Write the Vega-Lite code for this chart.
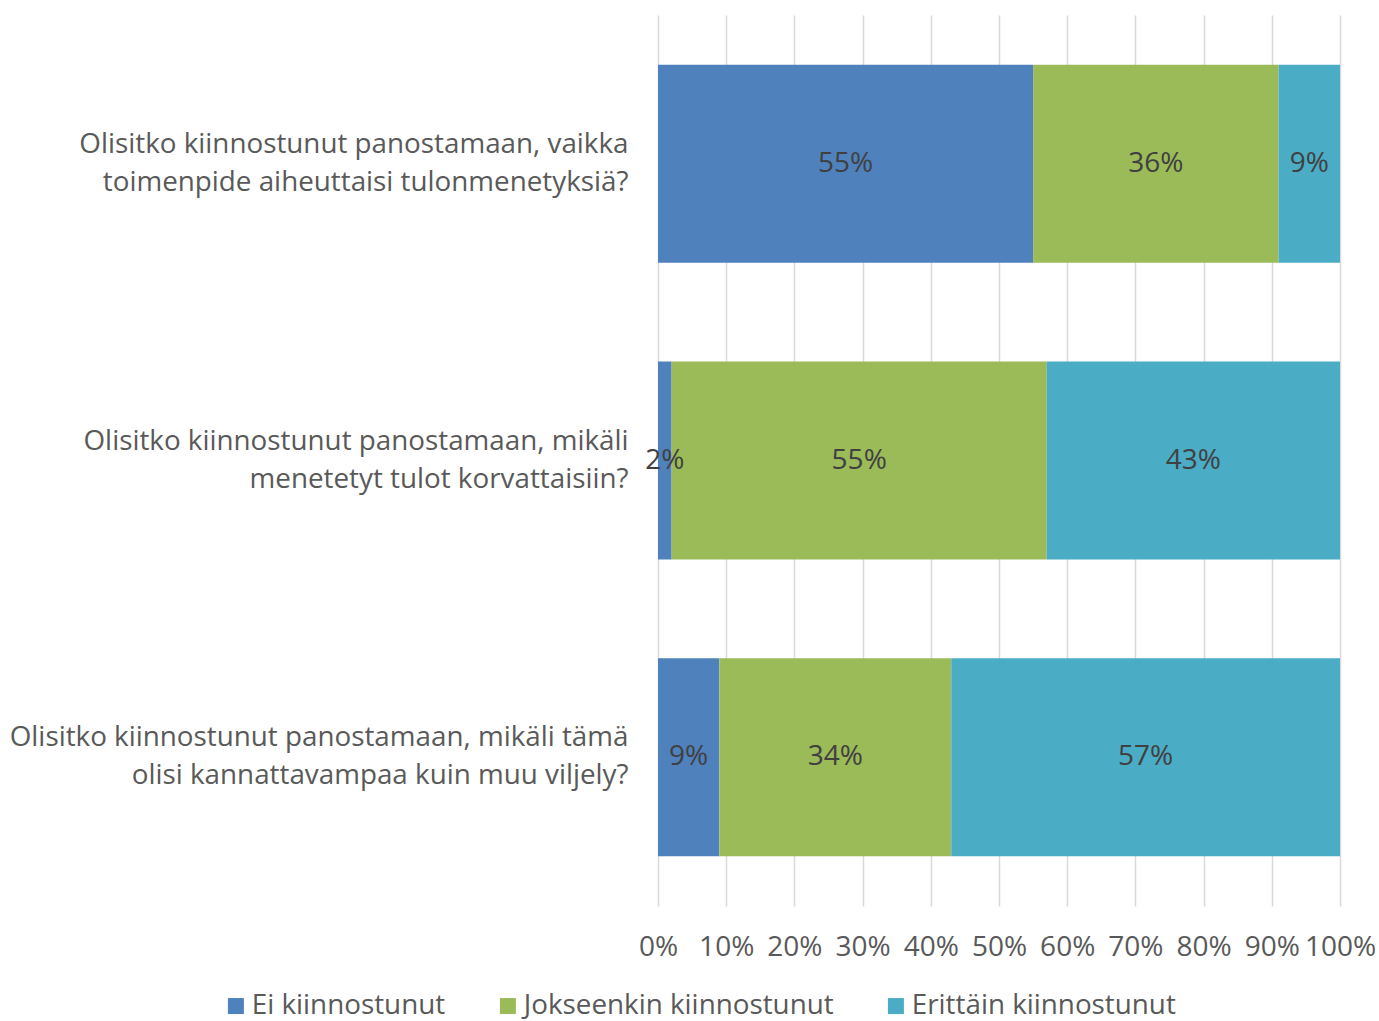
{
  "$schema": "https://vega.github.io/schema/vega-lite/v6.json",
  "autosize": "none",
  "width": 682,
  "height": 891,
  "padding": {"left": 658, "top": 15, "right": 39, "bottom": 115},
  "background": "white",
  "config": {
    "view": {"stroke": null},
    "font": "Open Sans"
  },
  "data": {
    "values": [
      {"q": "Olisitko kiinnostunut panostamaan, vaikka|toimenpide aiheuttaisi tulonmenetyksiä?", "qo": 1, "cat": "Ei kiinnostunut", "co": 1, "v": 0.55},
      {"q": "Olisitko kiinnostunut panostamaan, vaikka|toimenpide aiheuttaisi tulonmenetyksiä?", "qo": 1, "cat": "Jokseenkin kiinnostunut", "co": 2, "v": 0.36},
      {"q": "Olisitko kiinnostunut panostamaan, vaikka|toimenpide aiheuttaisi tulonmenetyksiä?", "qo": 1, "cat": "Erittäin kiinnostunut", "co": 3, "v": 0.09},
      {"q": "Olisitko kiinnostunut panostamaan, mikäli|menetetyt tulot korvattaisiin?", "qo": 2, "cat": "Ei kiinnostunut", "co": 1, "v": 0.02},
      {"q": "Olisitko kiinnostunut panostamaan, mikäli|menetetyt tulot korvattaisiin?", "qo": 2, "cat": "Jokseenkin kiinnostunut", "co": 2, "v": 0.55},
      {"q": "Olisitko kiinnostunut panostamaan, mikäli|menetetyt tulot korvattaisiin?", "qo": 2, "cat": "Erittäin kiinnostunut", "co": 3, "v": 0.43},
      {"q": "Olisitko kiinnostunut panostamaan, mikäli tämä|olisi kannattavampaa kuin muu viljely?", "qo": 3, "cat": "Ei kiinnostunut", "co": 1, "v": 0.09},
      {"q": "Olisitko kiinnostunut panostamaan, mikäli tämä|olisi kannattavampaa kuin muu viljely?", "qo": 3, "cat": "Jokseenkin kiinnostunut", "co": 2, "v": 0.34},
      {"q": "Olisitko kiinnostunut panostamaan, mikäli tämä|olisi kannattavampaa kuin muu viljely?", "qo": 3, "cat": "Erittäin kiinnostunut", "co": 3, "v": 0.57}
    ]
  },
  "transform": [
    {"stack": "v", "groupby": ["q"], "sort": [{"field": "co", "order": "ascending"}], "as": ["x0", "x1"]},
    {"calculate": "(datum.x0 + datum.x1) / 2", "as": "xm"}
  ],
  "encoding": {
    "y": {
      "field": "q",
      "type": "nominal",
      "sort": {"field": "qo", "order": "ascending"},
      "title": null,
      "scale": {"paddingInner": 0.333, "paddingOuter": 0.168},
      "axis": {
        "labelExpr": "split(datum.label, '|')",
        "labelFontSize": 27.8,
        "labelColor": "#595959",
        "labelLineHeight": 38,
        "labelPadding": 30,
        "labelOffset": -19,
        "labelLimit": 700,
        "ticks": false,
        "domain": false,
        "labelAlign": "right"
      }
    }
  },
  "layer": [
    {
      "mark": {"type": "bar"},
      "encoding": {
        "x": {
          "field": "x0",
          "type": "quantitative",
          "scale": {"domain": [0, 1], "nice": false},
          "title": null,
          "axis": {
            "format": ".0%",
            "values": [0, 0.1, 0.2, 0.3, 0.4, 0.5, 0.6, 0.7, 0.8, 0.9, 1],
            "labelFontSize": 28,
            "labelColor": "#595959",
            "labelPadding": 27,
            "ticks": false,
            "domain": false,
            "grid": true,
            "gridColor": "#d9d9d9",
            "gridWidth": 1.5,
            "labelFlush": false,
            "labelOverlap": false
          }
        },
        "x2": {"field": "x1"},
        "color": {
          "field": "cat",
          "type": "nominal",
          "sort": ["Ei kiinnostunut", "Jokseenkin kiinnostunut", "Erittäin kiinnostunut"],
          "scale": {
            "domain": ["Ei kiinnostunut", "Jokseenkin kiinnostunut", "Erittäin kiinnostunut"],
            "range": ["#4F81BD", "#9BBB59", "#4BACC6"]
          },
          "legend": {
            "title": null,
            "orient": "none",
            "direction": "horizontal",
            "legendX": -436,
            "legendY": 977,
            "symbolType": "square",
            "symbolSize": 256,
            "symbolStrokeWidth": 0,
            "symbolOpacity": 1,
            "labelFontSize": 27.8,
            "labelColor": "#595959",
            "labelOffset": 2,
            "columnPadding": 48,
            "labelLimit": 500
          }
        }
      }
    },
    {
      "mark": {"type": "text", "fontSize": 28, "color": "#404040", "baseline": "middle", "align": "center"},
      "encoding": {
        "x": {"field": "xm", "type": "quantitative"},
        "text": {"field": "v", "type": "quantitative", "format": ".0%"}
      }
    }
  ]
}
